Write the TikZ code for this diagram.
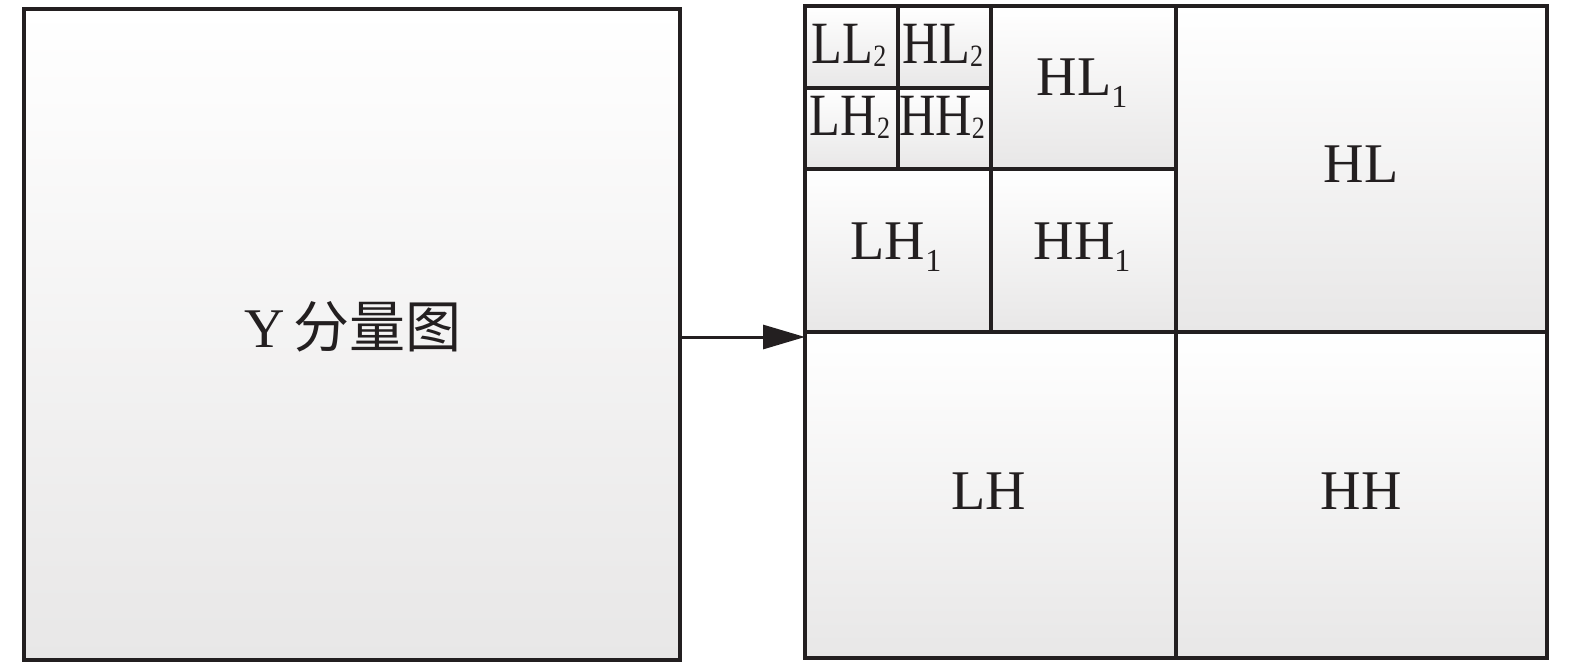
\documentclass[tikz,border=0pt]{standalone}
\usepackage{fontspec}
\setmainfont{Liberation Serif}
\newfontfamily\cjk{Noto Sans CJK SC}
\usetikzlibrary{arrows.meta}
\definecolor{ink}{RGB}{35,31,32}
\definecolor{shadebot}{RGB}{232,231,231}
\newcommand{\biglab}[2]{\fontsize{56}{56}\selectfont #1\raisebox{-12pt}{\fontsize{32}{32}\selectfont #2}}
\newcommand{\smalllab}[2]{\scalebox{0.84}[1]{\fontsize{60}{60}\selectfont #1\raisebox{-3pt}{\fontsize{31}{31}\selectfont #2}}}
\tikzset{
  cellfill/.style={rectangle, inner sep=0pt, outer sep=0pt, top color=white, bottom color=shadebot, draw=none},
  edge/.style={draw=ink, line width=4pt, line join=miter},
  lab/.style={anchor=base, inner sep=0pt, text=ink},
}
\begin{document}
\begin{tikzpicture}[x=1pt,y=-1pt]
\useasboundingbox (0,0) rectangle (1575,665);
% cell fills
\path[cellfill] (24,9) rectangle (680,660);
\foreach \n/\a/\b/\c/\d in {LLtwo/805/6/898/87.5, HLtwo/898/6/990.5/87.5, LHtwo/805/87.5/898/169, HHtwo/898/87.5/990.5/169,
  HLone/990.5/6/1176/169, LHone/805/169/990.5/332, HHone/990.5/169/1176/332,
  HL/1176/6/1547/332, LH/805/332/1176/658, HH/1176/332/1547/658}{
  \path[cellfill] (\a,\b) rectangle (\c,\d);
  \coordinate (\n-nw) at (\a,\b);
  \coordinate (\n-se) at (\c,\d);
}
% outlines
\draw[edge] (24,9) rectangle (680,660);
\foreach \n in {LLtwo,HLtwo,LHtwo,HHtwo,HLone,LHone,HHone,HL,LH,HH}{
  \draw[edge] (\n-nw) rectangle (\n-se);
}
\coordinate (gridw) at (805,337);
\coordinate (yboxe) at (680,337);
\draw[draw=ink, line width=3pt, -{Triangle[length=42pt,width=24pt]}] (yboxe) -- (gridw);
% labels
\node[lab] (ylab) at (353,347) {\fontsize{56}{56}\selectfont Y\,{\cjk\fontsize{56}{56}\selectfont 分量图}};
\node[lab] (lHL) at (1361,182.7) {\biglab{HL}{}};
\node[lab] (lLH) at (989,509) {\biglab{LH}{}};
\node[lab] (lHH) at (1361,509) {\biglab{HH}{}};
\node[lab] (lLH1) at (896,259) {\biglab{LH}{1}};
\node[lab] (lHH1) at (1082,259) {\biglab{HH}{1}};
\node[lab] (lHL1) at (1082,95) {\biglab{HL}{1}};
\node[lab] (lLL2) at (849,63) {\smalllab{LL}{2}};
\node[lab] (lHL2) at (943,63) {\smalllab{HL}{2}};
\node[lab] (lLH2) at (850,135) {\smalllab{LH}{2}};
\node[lab] (lHH2) at (942,135) {\smalllab{HH}{2}};
\end{tikzpicture}
\end{document}
